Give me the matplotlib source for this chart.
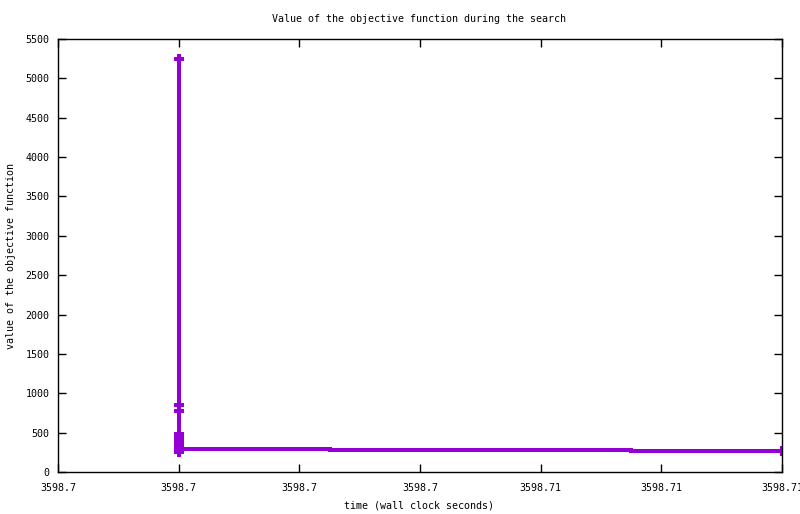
import matplotlib
matplotlib.use("Agg")
import matplotlib.pyplot as plt

# objective value over wall clock time (steps)
times = [3598.700] * 14 + [3598.70251, 3598.7075, 3598.710]
values = [5240, 855, 780, 487, 440, 420, 400, 380, 360, 340, 310, 280, 258, 296,
          282, 268, 268]
marked = list(range(14)) + [16]

x_ticks = [3598.698, 3598.700, 3598.702, 3598.704, 3598.706, 3598.708, 3598.710]
x_tick_labels = ["3598.7", "3598.7", "3598.7", "3598.7", "3598.71", "3598.71", "3598.71"]
y_ticks = list(range(0, 5501, 500))

COLOR = "#9400d3"
FONT = "DejaVu Sans Mono"
FS = 7.2

fig = plt.figure(figsize=(8, 5.14), dpi=100)
ax = fig.add_axes([58 / 800, 42 / 514, 724 / 800, 433 / 514])

ax.step(times, values, where="post", color=COLOR, lw=2.9, solid_joinstyle="miter")
ax.plot([times[i] for i in marked], [values[i] for i in marked], ls="none",
        marker="+", ms=7.5, mew=2.9, color=COLOR)

ax.set_xlim(x_ticks[0], x_ticks[-1])
ax.set_ylim(0, 5500)
ax.set_xticks(x_ticks)
ax.set_xticklabels(x_tick_labels, fontfamily=FONT, fontsize=FS)
ax.set_yticks(y_ticks)
ax.set_yticklabels([str(v) for v in y_ticks], fontfamily=FONT, fontsize=FS)
ax.tick_params(axis="x", direction="in", length=6, width=1, top=True, pad=8)
ax.tick_params(axis="y", direction="in", length=6, width=1, right=True, pad=6)
for sp in ax.spines.values():
    sp.set_linewidth(1)
    sp.set_color("black")

fig.text(419 / 800, 1 - 19 / 514, "Value of the objective function during the search",
         ha="center", va="center", fontfamily=FONT, fontsize=FS)
fig.text(419 / 800, 1 - 505 / 514, "time (wall clock seconds)",
         ha="center", va="center", fontfamily=FONT, fontsize=FS)
fig.text(11 / 800, 1 - 256 / 514, "value of the objective function", rotation=90,
         ha="center", va="center", fontfamily=FONT, fontsize=FS)

for lab in ax.get_xticklabels() + ax.get_yticklabels():
    lab.set_clip_on(False)

fig.savefig("out.png", dpi=100)
